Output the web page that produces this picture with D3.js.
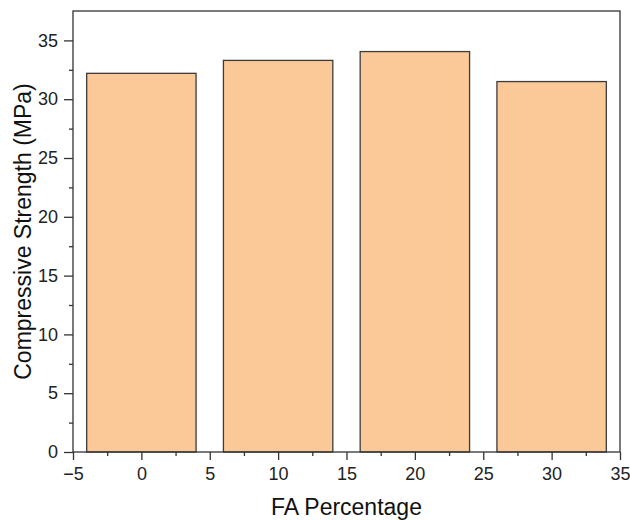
<!DOCTYPE html>
<html>
<head>
<meta charset="utf-8">
<script src="https://cdn.jsdelivr.net/npm/d3@7"></script>
<style>
  body { margin: 0; background: #fff; }
  svg { display: block; font-family: "Liberation Sans", Arial, sans-serif; }
</style>
</head>
<body>
<svg id="chart"></svg>
<script>
// Compressive strength vs FA percentage — bar chart, Origin style frame

const faPct    = [0, 10, 20, 30];
const strength = [32.2, 33.3, 34.05, 31.5];
const xTicks   = [-5, 0, 5, 10, 15, 20, 25, 30, 35];
const yTicks   = [0, 5, 10, 15, 20, 25, 30, 35];

const W = 630, H = 520;
const M = { top: 11, right: 10, bottom: 68, left: 73 };
const BAR_W = 8;           // bar width in x units
const AXIS = '#333';

const svg = d3.select('#chart').attr('width', W).attr('height', H);

const x = d3.scaleLinear().domain([-5, 35]).range([M.left, W - M.right]);
const y = d3.scaleLinear().domain([0, 37.5]).range([H - M.bottom, M.top]);

// ── Bars ─────────────────────────────────────────────────────────────────
svg.append('g')
    .selectAll('rect')
    .data(faPct.map((v, i) => ({ x: v, y: strength[i] })))
    .join('rect')
    .attr('x', d => x(d.x - BAR_W / 2))
    .attr('width', d => x(d.x + BAR_W / 2) - x(d.x - BAR_W / 2))
    .attr('y', d => y(d.y))
    .attr('height', d => y(0) - y(d.y))
    .attr('fill', '#FBC897')
    .attr('stroke', '#3c3c3c')
    .attr('stroke-width', 1.3);

// ── Frame ────────────────────────────────────────────────────────────────
svg.append('rect')
    .attr('x', x(-5)).attr('y', M.top)
    .attr('width', x(35) - x(-5)).attr('height', y(0) - M.top)
    .attr('fill', 'none').attr('stroke', AXIS).attr('stroke-width', 1.3);

// ── Axes (minor ticks in their own groups so they survive) ───────────────
const xMinor = d3.range(-2.5, 35, 5);
const yMinor = d3.range(2.5, 37.5, 5);

svg.append('g').attr('transform', `translate(0,${y(0)})`)
    .call(d3.axisBottom(x).tickValues(xMinor).tickSize(4).tickFormat(''));
svg.append('g').attr('transform', `translate(0,${y(0)})`)
    .call(d3.axisBottom(x).tickValues(xTicks).tickSize(8).tickPadding(7)
        .tickFormat(d => d < 0 ? '\u2212' + Math.abs(d) : d));

svg.append('g').attr('transform', `translate(${x(-5)},0)`)
    .call(d3.axisLeft(y).tickValues(yMinor).tickSize(4).tickFormat(''));
svg.append('g').attr('transform', `translate(${x(-5)},0)`)
    .call(d3.axisLeft(y).tickValues(yTicks).tickSize(9).tickPadding(6));

svg.selectAll('.domain').remove();
svg.selectAll('.tick line').attr('stroke', AXIS).attr('stroke-width', 1.3);
svg.selectAll('.tick text').attr('fill', '#222').attr('font-size', '18px')
    .attr('font-family', '"Liberation Sans", Arial, sans-serif');

// ── Axis titles ──────────────────────────────────────────────────────────
svg.append('text')
    .attr('x', (x(-5) + x(35)) / 2).attr('y', 515)
    .attr('text-anchor', 'middle')
    .attr('font-size', '23px').attr('fill', '#111')
    .text('FA Percentage');

svg.append('text')
    .attr('transform', `translate(31,${(M.top + y(0)) / 2}) rotate(-90)`)
    .attr('text-anchor', 'middle')
    .attr('font-size', '23px').attr('fill', '#111')
    .text('Compressive Strength (MPa)');
</script>
</body>
</html>
